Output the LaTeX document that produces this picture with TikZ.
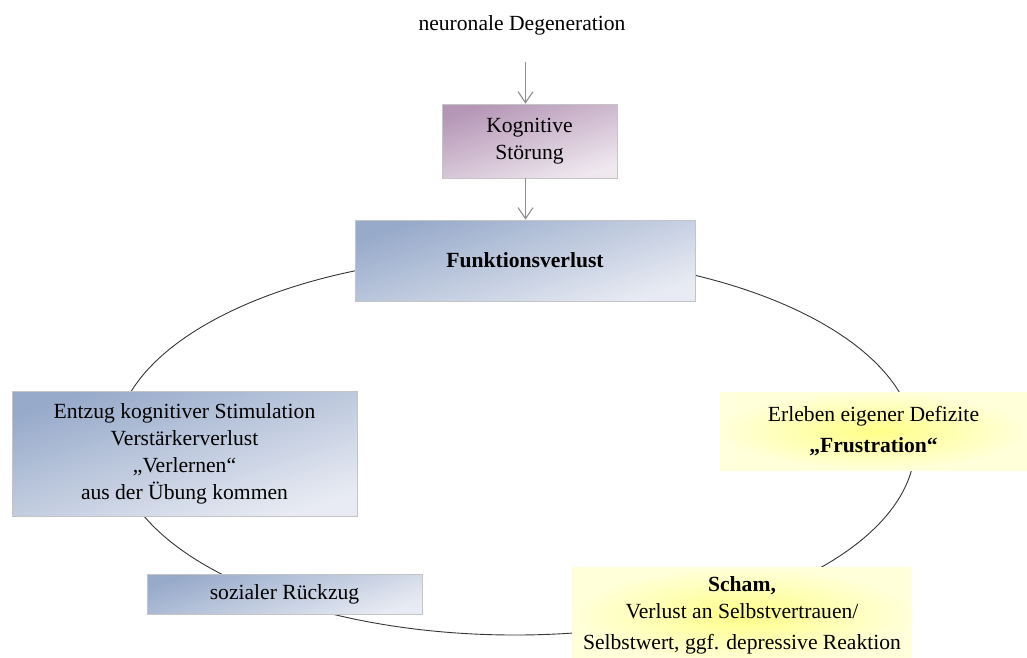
\documentclass[tikz,border=0pt]{standalone}
\usepackage{fontspec}
\setmainfont{Liberation Serif}
\usetikzlibrary{arrows.meta}

\definecolor{mauveDark}{HTML}{B596B6}
\definecolor{mauveLight}{HTML}{EFE8EF}
\definecolor{blueDark}{HTML}{97AACA}
\definecolor{blueLight}{HTML}{E8EBF3}
\definecolor{yellowCore}{HTML}{FFFF88}
\definecolor{yellowRim}{HTML}{FFFFDA}
\definecolor{boxEdge}{HTML}{C4C4C4}
\definecolor{ringLine}{HTML}{363636}
\definecolor{arrowGray}{HTML}{8E8E8E}

\tikzset{
  basebox/.style={inner sep=0pt, align=center, text=black},
  mauvebox/.style={basebox, draw=boxEdge, line width=0.8pt,
    top color=mauveDark, bottom color=mauveLight, shading angle=18},
  bluebox/.style={basebox, draw=boxEdge, line width=0.8pt,
    top color=blueDark, bottom color=blueLight, shading angle=18},
  yellowbox/.style={basebox, inner color=yellowCore, outer color=yellowRim},
  ring/.style={draw=ringLine, line width=0.9pt},
  feed/.style={draw=arrowGray, line width=1.1pt,
    -{Straight Barb[length=11pt, width=15pt, line width=1.1pt]}}
}

\begin{document}
\begin{tikzpicture}[x=1pt, y=-1pt, font=\fontsize{21.6}{27}\selectfont]
  \clip (0,0) rectangle (1027,657);
  \fill[white] (0,0) rectangle (1027,657);

  % the vicious circle behind the boxes
  \draw[ring] (515,445) ellipse [x radius=400, y radius=190];

  % cause at the top
  \node[basebox] (deg) at (522,25) {neuronale Degeneration};
  \coordinate (axis) at (525.5,62);

  \node[mauvebox, minimum width=175pt, minimum height=74pt] (kog)
    at (529.5,141) {Kognitive\\Störung};
  \node[bluebox, minimum width=340pt, minimum height=81pt] (fv)
    at (525,260.5) {\textbf{Funktionsverlust}};

  % stations on the circle
  \node[yellowbox, minimum width=307pt, minimum height=78pt] (erl)
    at (873.5,431) {Erleben eigener Defizite\\[4pt]\textbf{„Frustration“}};
  \node[yellowbox, minimum width=340pt, minimum height=96pt] (scham)
    at (742,615) {\textbf{Scham,}\\Verlust an Selbstvertrauen/\\[4pt]Selbstwert, ggf. depressive Reaktion};
  \node[bluebox, minimum width=275pt, minimum height=40pt] (rueck)
    at (284.5,594) {sozialer Rückzug};
  \node[bluebox, minimum width=345pt, minimum height=125pt] (entz)
    at (184.5,453.5) {Entzug kognitiver Stimulation\\Verstärkerverlust\\„Verlernen“\\aus der Übung kommen};

  % causal arrows into the circle
  \draw[feed] (axis) -- (axis |- kog.north);
  \draw[feed] (kog.south -| axis) -- (axis |- fv.north);
\end{tikzpicture}
\end{document}
